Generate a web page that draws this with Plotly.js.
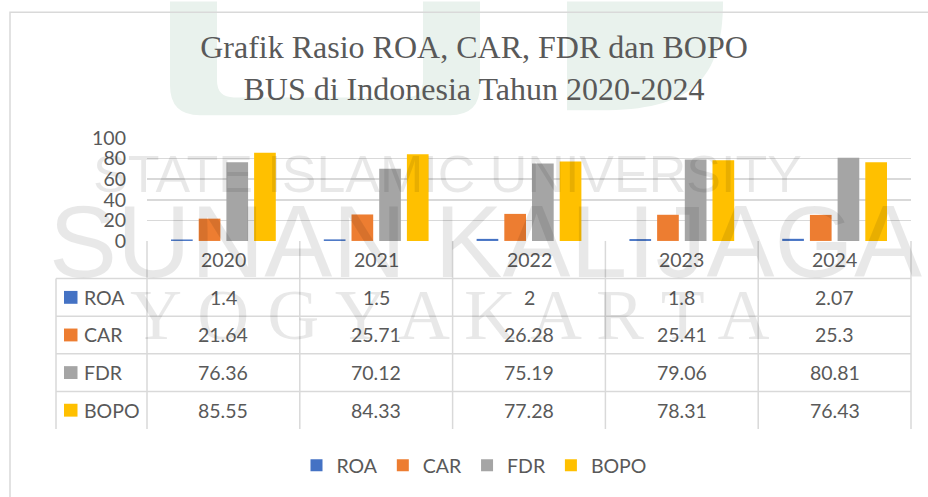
<!DOCTYPE html>
<html><head><meta charset="utf-8">
<script src="https://cdn.plot.ly/plotly-3.0.1.min.js"></script>
<style>html,body{margin:0;padding:0;background:#fff}#chart{width:928px;height:497px}</style>
</head><body><div id="chart"></div>
<script>
// ---- data ----
const years = ['2020', '2021', '2022', '2023', '2024'];
const seriesNames = ['ROA', 'CAR', 'FDR', 'BOPO'];
const roa = [1.4, 1.5, 2, 1.8, 2.07];
const car = [21.64, 25.71, 26.28, 25.41, 25.3];
const fdr = [76.36, 70.12, 75.19, 79.06, 80.81];
const bopo = [85.55, 84.33, 77.28, 78.31, 76.43];
const yTicks = [0, 20, 40, 60, 80, 100];
const titleLines = ['Grafik Rasio ROA, CAR, FDR dan BOPO', 'BUS di Indonesia Tahun 2020-2024'];
const watermarkLines = ['STATE ISLAMIC UNIVERSITY', 'SUNAN KALIJAGA', 'YOGYAKARTA'];

// ---- styling / geometry ----
const values = [roa, car, fdr, bopo];
const colors = ['#4472C4', '#ED7D31', '#A5A5A5', '#FFC000'];
const textColor = '#595959';
const lineColor = '#d9d9d9';
const uiFont = 'Lato, "Noto Sans", sans-serif';
const fs = 19.5;
const W = 928, H = 497;
const L = 147, R = 911, T = 138, B = 432;   // plot area (bars + table)
const zeroPx = 242, rowH = 38, tableLeft = 56;
const X = px => (px - L) / (R - L);
const Y = py => (B - py) / (B - T);

const traces = seriesNames.map((name, s) => ({
  type: 'bar', name: name, x: years, y: values[s],
  marker: {color: colors[s]}, hoverinfo: 'x+y+name'
}));

const shapes = [];
const annotations = [];

// watermark logo (very light green)
const P = (px, py) => X(px) + ',' + Y(py);
shapes.push({type: 'path', xref: 'paper', yref: 'paper', layer: 'below', line: {width: 0}, fillcolor: '#e9f2ed',
  path: 'M' + P(170, 0) + ' L' + P(170, 85) + ' Q' + P(170, 115) + ' ' + P(200, 115) + ' L' + P(450, 115) +
        ' Q' + P(480, 115) + ' ' + P(480, 85) + ' L' + P(480, 0) + ' L' + P(423, 0) + ' L' + P(423, 80) +
        ' Q' + P(423, 97) + ' ' + P(406, 97) + ' L' + P(234, 97) + ' Q' + P(217, 97) + ' ' + P(217, 80) +
        ' L' + P(217, 0) + ' Z'});
shapes.push({type: 'path', xref: 'paper', yref: 'paper', layer: 'below', line: {width: 0}, fillcolor: '#e9f2ed',
  path: 'M' + P(567, 0) + ' L' + P(723, 0) + ' C' + P(723, 80) + ' ' + P(690, 110) + ' ' + P(600, 110) +
        ' L' + P(567, 110) + ' Z'});

// chart border
shapes.push({type: 'rect', xref: 'paper', yref: 'paper', layer: 'below', x0: X(10), x1: X(960), y0: Y(11), y1: Y(520),
  line: {color: lineColor, width: 1.5}, fillcolor: 'rgba(0,0,0,0)'});

// table lines
for (let r = 1; r <= seriesNames.length; r++) {
  const py = zeroPx + r * rowH;
  shapes.push({type: 'line', xref: 'paper', yref: 'paper', x0: X(tableLeft), x1: 1, y0: Y(py), y1: Y(py),
    line: {color: lineColor, width: 1.5}});
}
for (let c = 0; c <= years.length; c++) {
  shapes.push({type: 'line', xref: 'paper', yref: 'paper', x0: c / years.length, x1: c / years.length,
    y0: Y(zeroPx), y1: Y(zeroPx + rowH * (seriesNames.length + 1)), line: {color: lineColor, width: 1.5}});
}
shapes.push({type: 'line', xref: 'paper', yref: 'paper', x0: X(tableLeft), x1: X(tableLeft),
  y0: Y(zeroPx + rowH), y1: Y(zeroPx + rowH * (seriesNames.length + 1)), line: {color: lineColor, width: 1.5}});

// header row (years), placed on the category axis
years.forEach((yr, i) => annotations.push({xref: 'x', yref: 'paper', x: i, y: Y(zeroPx + rowH / 2), text: yr,
  xanchor: 'center', yanchor: 'middle', showarrow: false, font: {family: uiFont, size: fs, color: textColor}}));

// series rows
seriesNames.forEach((name, s) => {
  const cy = zeroPx + rowH * (s + 1) + rowH / 2;
  shapes.push({type: 'rect', xref: 'paper', yref: 'paper', x0: X(64), x1: X(77.5), y0: Y(cy - 6.5), y1: Y(cy + 6.5),
    line: {width: 0}, fillcolor: colors[s]});
  annotations.push({xref: 'paper', yref: 'paper', x: X(82), y: Y(cy), xanchor: 'left', yanchor: 'middle', text: name,
    showarrow: false, font: {family: uiFont, size: fs, color: textColor}});
  years.forEach((yr, i) => annotations.push({xref: 'x', yref: 'paper', x: i, y: Y(cy), text: String(values[s][i]),
    xanchor: 'center', yanchor: 'middle', showarrow: false, font: {family: uiFont, size: fs, color: textColor}}));
});

// watermark text
const wmColor = 'rgba(0,0,0,0.09)';
annotations.push({xref: 'paper', yref: 'paper', x: X(447), y: Y(174), text: watermarkLines[0], showarrow: false,
  xanchor: 'center', yanchor: 'middle', font: {family: '"Liberation Sans", sans-serif', size: 52, color: wmColor}});
annotations.push({xref: 'paper', yref: 'paper', x: X(485), y: Y(243), text: watermarkLines[1], showarrow: false,
  xanchor: 'center', yanchor: 'middle', font: {family: '"Liberation Sans", sans-serif', size: 102, color: wmColor}});
annotations.push({xref: 'paper', yref: 'paper', x: X(450), y: Y(317), text: watermarkLines[2].split('').join(' '), showarrow: false,
  xanchor: 'center', yanchor: 'middle', font: {family: '"Liberation Serif", serif', size: 72, color: wmColor}});

const layout = {
  width: W, height: H,
  margin: {l: L, r: W - R, t: T, b: H - B, pad: 0},
  paper_bgcolor: '#ffffff', plot_bgcolor: 'rgba(0,0,0,0)',
  title: {text: titleLines.join('<br>'), xref: 'container', x: 474 / W, xanchor: 'center',
    yref: 'container', y: 1 - 58 / H, yanchor: 'middle',
    font: {family: '"Liberation Serif", "Times New Roman", serif', size: 32, color: textColor}},
  barmode: 'group', bargap: 0.275, bargroupgap: 0.217,
  xaxis: {type: 'category', range: [-0.5, years.length - 0.5], showticklabels: false, showgrid: false,
    zeroline: false, showline: false, ticks: '', fixedrange: true},
  yaxis: {range: [0, 100], domain: [Y(zeroPx), 1], tickvals: yTicks, ticks: '', showline: false,
    gridcolor: lineColor, gridwidth: 1.5, zeroline: false, ticklabelstandoff: 20,
    tickfont: {family: uiFont, size: fs, color: textColor}, fixedrange: true},
  showlegend: true,
  legend: {orientation: 'h', x: X(474), xanchor: 'center', y: Y(469), yanchor: 'middle',
    font: {family: uiFont, size: fs, color: textColor}, bgcolor: 'rgba(0,0,0,0)', traceorder: 'normal'},
  shapes: shapes, annotations: annotations
};

Plotly.newPlot('chart', traces, layout, {displayModeBar: false, staticPlot: true});
</script>
</body></html>
